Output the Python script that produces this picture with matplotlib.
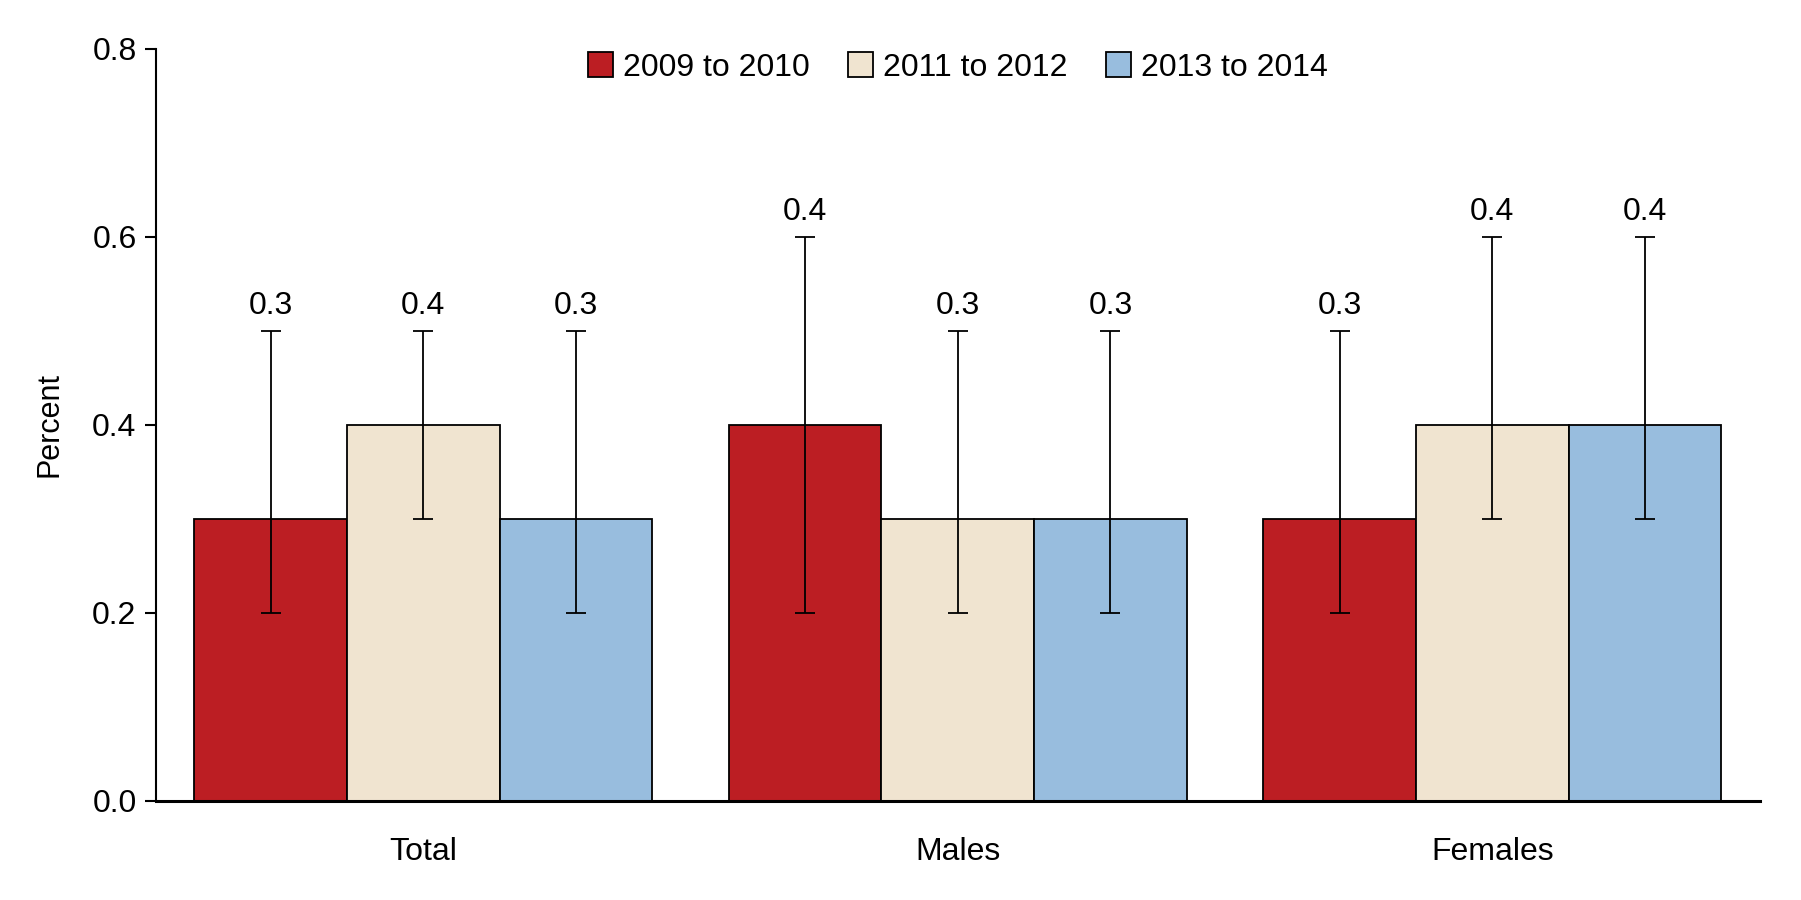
import numpy as np
import matplotlib
matplotlib.use("Agg")
import matplotlib.pyplot as plt
from matplotlib.patches import Patch

plt.rcParams['font.family'] = ['Liberation Sans Narrow', 'Liberation Sans', 'DejaVu Sans']

# Data
groups = ["Total", "Males", "Females"]
series = ["2009 to 2010", "2011 to 2012", "2013 to 2014"]
values = [
    [0.3, 0.4, 0.3],   # 2009 to 2010
    [0.4, 0.3, 0.4],   # 2011 to 2012
    [0.3, 0.3, 0.4],   # 2013 to 2014
]
ci_low = [
    [0.2, 0.2, 0.2],
    [0.3, 0.2, 0.3],
    [0.2, 0.2, 0.3],
]
ci_high = [
    [0.5, 0.6, 0.5],
    [0.5, 0.5, 0.6],
    [0.5, 0.5, 0.6],
]
colors = ["#BC1E23", "#F0E4D0", "#98BDDE"]

fig = plt.figure(figsize=(18.01, 9.0), dpi=100)
ax = fig.add_axes([0.0866, 0.110, 0.8904, 0.836])

x = np.arange(len(groups))
width = 0.2857
for i, name in enumerate(series):
    pos = x + (i - 1) * width
    vals = np.array(values[i])
    lo = vals - np.array(ci_low[i])
    hi = np.array(ci_high[i]) - vals
    ax.bar(pos, vals, width, color=colors[i], edgecolor="black", linewidth=1.3, zorder=2)
    ax.errorbar(pos, vals, yerr=[lo, hi], fmt="none", ecolor="black",
                elinewidth=1.3, capsize=7, capthick=1.3, zorder=3)
    for p, v, top in zip(pos, vals, ci_high[i]):
        ax.text(p, top + 0.01, f"{v:.1f}", ha="center", va="bottom", fontsize=23)

ax.set_xlim(-0.5, 2.5)
ax.set_ylim(0, 0.8)
ax.set_yticks(np.arange(0, 0.81, 0.2))
ax.set_yticklabels([f"{t:.1f}" for t in np.arange(0, 0.81, 0.2)], fontsize=23)
ax.set_xticks(x)
ax.set_xticklabels(groups, fontsize=23)
ax.tick_params(axis="x", length=0, pad=26)
ax.tick_params(axis="y", length=8, width=1.5, direction="out", pad=6)
ax.set_ylabel("Percent", fontsize=22, labelpad=20)

for s in ["top", "right"]:
    ax.spines[s].set_visible(False)
ax.spines["left"].set_linewidth(1.5)
ax.spines["bottom"].set_linewidth(2.2)

handles = [Patch(facecolor=c, edgecolor="black", linewidth=1.3) for c in colors]
ax.legend(handles, series, loc="center", bbox_to_anchor=(0.50, 0.975), ncol=3,
          frameon=False, fontsize=23, handlelength=0.8, handleheight=0.8,
          handletextpad=0.3, columnspacing=1.2)

fig.savefig("out.png", dpi=100)
